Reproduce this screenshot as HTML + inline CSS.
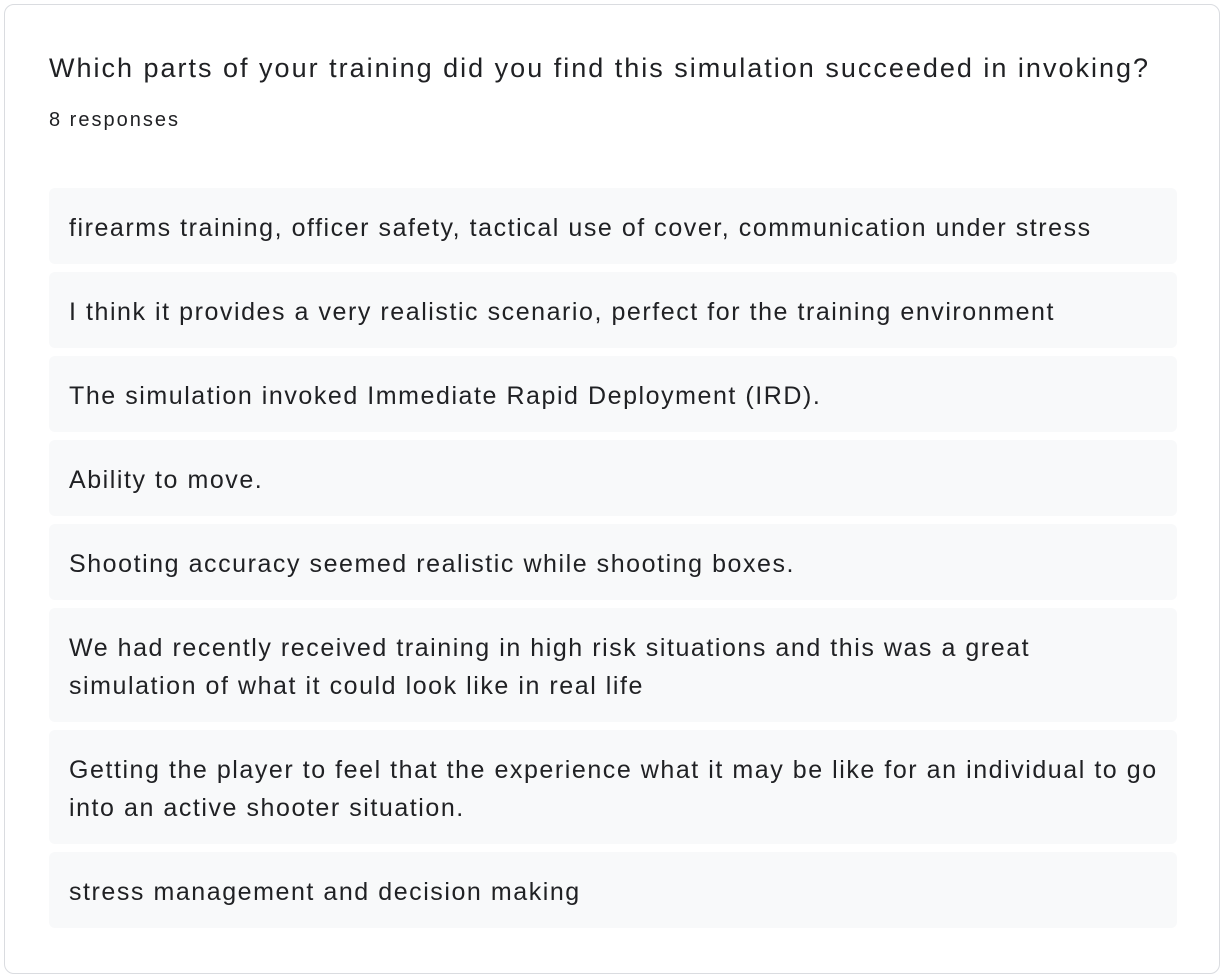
<!DOCTYPE html>
<html>
<head>
<meta charset="utf-8">
<style>
  html,body{margin:0;padding:0;background:#fff;}
  body{width:1226px;height:980px;position:relative;font-family:"Liberation Sans",Arial,sans-serif;color:#202124;}
  .card{position:absolute;left:4px;top:4px;width:1216px;height:970px;border:1px solid #dadce0;border-radius:10px;background:#fff;box-sizing:border-box;}
  .title{position:absolute;left:49px;top:50px;font-size:27px;line-height:36px;letter-spacing:2px;white-space:nowrap;}
  .count{position:absolute;left:49px;top:107px;font-size:20px;line-height:26px;letter-spacing:2px;}
  .list{position:absolute;left:49px;top:188px;width:1128px;}
  .item{background:#f8f9fa;border-radius:6px;padding:21px 20px 17px;font-size:25px;line-height:38px;letter-spacing:1.55px;margin-bottom:8px;white-space:nowrap;}
</style>
</head>
<body>
<div class="card"></div>
<div class="title">Which parts of your training did you find this simulation succeeded in invoking?</div>
<div class="count">8 responses</div>
<div class="list">
  <div class="item">firearms training, officer safety, tactical use of cover, communication under stress</div>
  <div class="item">I think it provides a very realistic scenario, perfect for the training environment</div>
  <div class="item">The simulation invoked Immediate Rapid Deployment (IRD).</div>
  <div class="item">Ability to move.</div>
  <div class="item">Shooting accuracy seemed realistic while shooting boxes.</div>
  <div class="item">We had recently received training in high risk situations and this was a great<br>simulation of what it could look like in real life</div>
  <div class="item">Getting the player to feel that the experience what it may be like for an individual to go<br>into an active shooter situation.</div>
  <div class="item">stress management and decision making</div>
</div>
</body>
</html>
